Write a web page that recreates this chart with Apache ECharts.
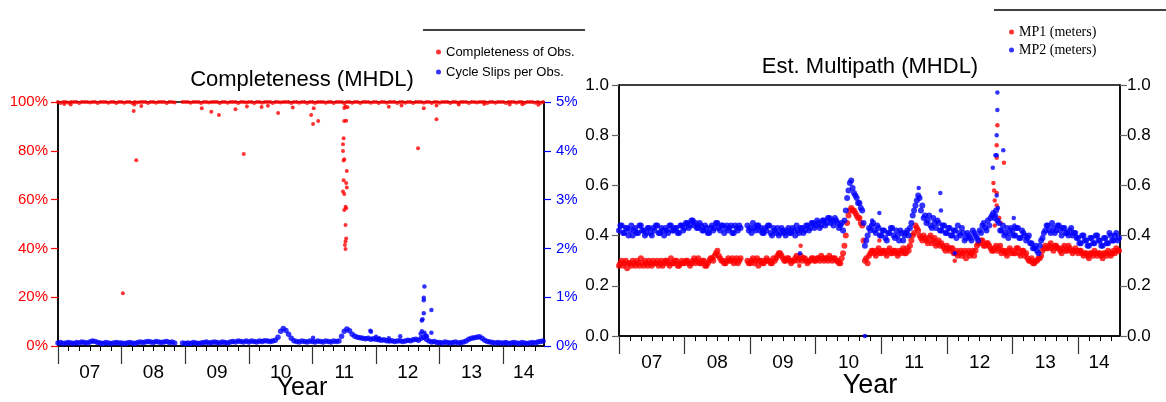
<!DOCTYPE html>
<html>
<head>
<meta charset="utf-8">
<script src="https://cdn.jsdelivr.net/npm/echarts@6.0.0/dist/echarts.min.js"></script>
<style>
  html, body { margin: 0; padding: 0; background: #fff; }
  #main { width: 1166px; height: 402px; }
</style>
</head>
<body>
<div id="main"></div>
<script>
// x axis: years, labels sit between the year ticks
var years = [2007, 2008, 2009, 2010, 2011, 2012, 2013, 2014];
var yearLabels = ['07', '08', '09', '10', '11', '12', '13', '14'];
var labelPos = [2007.5, 2008.5, 2009.5, 2010.5, 2011.5, 2012.5, 2013.5, 2014.32];
var xMin = 2007, xMax = 2014.64;

// half-month samples starting 2007.0 (24 per year, last year 16)
// completeness of obs. (%)
var complete = [
  100,99.6,100,100,99.7,100,100,100,99.6,100,100,100,99.8,100,100,99.6,100,100,100,99.7,100,100,99.6,100,
  100,99.7,100,100,99.6,100,99.8,100,100,100,99.6,100,100,99.7,100,100,100,99.6,100,100,99.8,null,null,100,
  100,100,99.7,100,100,100,99.6,100,100,99.8,100,100,100,99.6,100,100,99.7,100,100,100,99.6,100,100,99.8,
  100,100,99.6,100,100,99.7,100,100,100,99.6,100,100,99.8,100,100,100,99.6,100,100,99.7,100,100,99.6,100,
  100,99.6,100,100,100,99.7,100,100,99.6,100,100,100,99.5,100,100,99.7,100,100,99.6,100,100,100,99.7,100,
  100,99.6,100,100,99.7,100,100,100,99.6,100,100,99.7,100,100,99.6,100,100,100,99.7,100,100,99.6,100,100,
  99.7,100,100,100,99.6,100,100,99.7,100,100,100,99.6,100,100,99.8,100,100,100,99.6,100,100,99.7,100,100,
  100,99.6,100,100,100,99.7,100,100,99.6,100,100,100,99.7,100,99.6,100
];
// completeness drop-outs [year, %]
var completeLow = [
  [2008.02,21.6],[2008.19,96.3],[2008.23,76.1],[2008.31,98.4],[2008.20,99.0],[2009.26,97.4],
  [2009.41,96.0],[2009.53,94.7],[2009.79,97.0],[2009.92,78.7],[2009.97,98.2],[2010.20,98.0],
  [2010.30,98.5],[2010.46,95.5],[2010.69,97.7],[2010.98,94.7],[2011.02,97.4],[2011.01,91.0],
  [2011.09,92.2],[2011.50,92.2],[2011.53,92.3],[2011.50,97.5],[2011.52,98.2],[2011.55,97.8],
  [2011.49,85.1],[2011.48,82.7],[2011.48,79.9],[2011.50,76.5],[2011.49,76.0],[2011.54,71.7],
  [2011.49,67.9],[2011.53,66.8],[2011.54,65.0],[2011.48,63.3],[2011.50,62.3],[2011.52,57.1],
  [2011.50,55.7],[2011.53,56.5],[2011.52,49.6],[2011.53,44.1],[2011.52,42.8],[2011.51,41.4],
  [2011.52,39.8],[2012.20,98.1],[2012.40,98.6],[2012.66,81.0],[2012.75,97.4],[2012.95,92.9],
  [2012.95,98.6],[2013.30,99.0],[2013.70,99.2],[2014.10,99.0],[2014.30,99.1],[2014.55,98.9],
  [2007.10,99.2],[2007.20,99.0]
];
// cycle slips per obs. (%)
var slips = [
  0.06,0.07,0.05,0.06,0.07,0.06,0.05,0.07,0.06,0.08,0.07,0.06,0.08,0.10,0.09,0.07,0.06,0.05,0.07,0.06,0.05,0.06,0.07,0.06,
  0.06,0.05,0.06,0.07,0.06,0.05,0.07,0.08,0.07,0.08,0.09,0.08,0.07,0.09,0.08,0.07,0.08,0.09,0.07,0.08,0.06,null,null,0.06,
  0.05,0.06,0.05,0.07,0.06,0.05,0.06,0.07,0.08,0.06,0.07,0.08,0.07,0.06,0.08,0.07,0.06,0.08,0.09,0.08,0.10,0.09,0.08,0.10,
  0.08,0.10,0.09,0.08,0.10,0.09,0.11,0.10,0.09,0.10,0.12,0.18,0.30,0.36,0.32,0.24,0.16,0.11,0.09,0.08,0.10,0.09,0.08,0.10,
  0.09,0.08,0.10,0.09,0.08,0.10,0.09,0.08,0.10,0.09,0.10,0.20,0.30,0.35,0.31,0.24,0.20,0.18,0.17,0.16,0.15,0.16,0.14,0.15,
  0.14,0.13,0.12,0.13,0.11,0.10,0.11,0.09,0.10,0.11,0.09,0.10,0.12,0.11,0.13,0.14,0.12,0.16,0.18,0.14,0.10,0.08,0.09,0.07,
  0.07,0.06,0.08,0.07,0.06,0.07,0.08,0.06,0.07,0.08,0.10,0.14,0.16,0.17,0.18,0.19,0.16,0.12,0.09,0.08,0.07,0.06,0.07,0.06,
  0.06,0.07,0.05,0.06,0.07,0.06,0.05,0.07,0.06,0.05,0.06,0.07,0.06,0.08,0.09,0.10
];
var slipsHigh = [
  [2011.01,0.17],[2011.91,0.31],[2011.92,0.29],[2012.00,0.19],[2012.05,0.16],[2012.20,0.16],
  [2012.38,0.20],[2012.76,1.22],[2012.75,0.99],[2012.75,0.94],[2012.75,0.67],[2012.73,0.55],
  [2012.72,0.52],[2012.87,0.74],[2012.87,0.27],[2012.72,0.30],[2012.76,0.27],[2012.70,0.25],
  [2012.78,0.22],[2012.80,0.20]
];
// multipath MP1 / MP2 (meters), two interleaved sample sets
var mp1 = [
  0.28,0.30,0.29,0.27,0.29,0.30,0.28,0.29,0.31,0.28,0.29,0.30,0.28,0.29,0.30,0.29,0.28,0.30,0.29,0.31,0.29,0.30,0.28,0.30,
  0.29,0.30,0.28,0.30,0.29,0.31,0.29,0.30,0.28,0.30,0.31,0.32,0.34,0.31,0.30,0.29,0.31,0.30,0.29,0.31,0.30,null,null,0.30,
  0.29,0.31,0.30,0.28,0.30,0.29,0.31,0.30,0.29,0.30,0.32,0.33,0.31,0.30,0.31,0.29,0.30,0.32,0.31,0.30,0.31,0.29,0.30,0.31,
  0.30,0.31,0.32,0.30,0.31,0.32,0.30,0.31,0.30,0.29,0.33,0.40,0.48,0.51,0.50,0.48,0.47,0.44,0.30,0.29,0.33,0.34,0.32,0.35,
  0.33,0.34,0.32,0.35,0.33,0.34,0.32,0.33,0.35,0.33,0.34,0.38,0.41,0.43,0.40,0.38,0.39,0.37,0.40,0.38,0.36,0.38,0.37,0.35,
  0.36,0.34,0.35,0.33,0.32,0.34,0.33,0.31,0.34,0.33,0.32,0.36,0.37,0.38,0.36,0.37,0.35,0.34,0.36,0.35,0.33,0.34,0.32,0.35,
  0.34,0.33,0.35,0.32,0.34,0.33,0.30,0.31,0.29,0.30,0.31,0.34,0.36,0.35,0.37,0.34,0.36,0.35,0.33,0.36,0.34,0.35,0.33,0.35,
  0.33,0.34,0.32,0.33,0.31,0.33,0.34,0.32,0.33,0.31,0.33,0.34,0.32,0.34,0.35,0.34
];
var mp1b = [
  0.29,0.28,0.30,0.29,0.28,0.29,0.30,0.28,0.29,0.30,0.28,0.29,0.30,0.29,0.28,0.30,0.29,0.30,0.28,0.29,0.30,0.28,0.29,0.29,
  0.30,0.29,0.29,0.31,0.30,0.29,0.30,0.28,0.29,0.31,0.30,0.33,0.32,0.30,0.29,0.30,0.30,0.31,0.30,0.29,0.31,null,null,0.29,
  0.30,0.29,0.31,0.30,0.29,0.30,0.30,0.29,0.31,0.31,0.33,0.32,0.30,0.31,0.30,0.30,0.31,0.30,0.32,0.31,0.30,0.30,0.31,0.30,
  0.31,0.30,0.31,0.31,0.30,0.31,0.31,0.30,0.29,0.31,0.36,0.45,0.50,0.50,0.49,0.47,0.45,0.38,0.31,0.32,0.34,0.33,0.34,0.33,
  0.34,0.33,0.34,0.33,0.34,0.33,0.34,0.34,0.33,0.35,0.36,0.40,0.44,0.42,0.39,0.40,0.38,0.39,0.37,0.39,0.37,0.36,0.36,0.34,
  0.35,0.35,0.33,0.34,0.33,0.32,0.34,0.33,0.32,0.34,0.34,0.37,0.38,0.36,0.37,0.36,0.34,0.35,0.34,0.36,0.34,0.33,0.34,0.33,
  0.33,0.35,0.33,0.34,0.32,0.31,0.30,0.29,0.30,0.31,0.32,0.35,0.35,0.36,0.35,0.36,0.35,0.34,0.35,0.34,0.36,0.34,0.34,0.34,
  0.34,0.33,0.33,0.32,0.33,0.32,0.33,0.33,0.32,0.33,0.32,0.33,0.33,0.33,0.34,0.35
];
var mp1High = [
  [2009.77,0.36],[2009.75,0.28],[2010.97,0.38],[2012.12,0.30],[2012.71,0.61],[2012.72,0.58],
  [2012.76,0.57],[2012.73,0.54],[2012.76,0.52],[2012.77,0.84],[2012.76,0.76],[2012.76,0.71],
  [2012.87,0.69],[2012.80,0.47],[2012.82,0.45],[2012.73,0.44]
];
var mp2 = [
  0.42,0.44,0.41,0.43,0.42,0.40,0.43,0.41,0.44,0.42,0.41,0.43,0.40,0.42,0.44,0.41,0.42,0.43,0.41,0.44,0.42,0.43,0.41,0.44,
  0.43,0.45,0.44,0.46,0.45,0.43,0.44,0.42,0.43,0.41,0.44,0.43,0.45,0.42,0.44,0.43,0.42,0.44,0.41,0.43,0.44,null,null,0.44,
  0.43,0.45,0.42,0.44,0.43,0.41,0.42,0.44,0.40,0.42,0.43,0.41,0.42,0.40,0.43,0.41,0.42,0.44,0.41,0.43,0.42,0.44,0.43,0.45,
  0.44,0.45,0.44,0.46,0.45,0.47,0.46,0.47,0.45,0.44,0.42,0.50,0.58,0.62,0.57,0.55,0.53,0.50,0.36,0.40,0.42,0.45,0.41,0.43,
  0.40,0.42,0.38,0.41,0.43,0.39,0.40,0.42,0.38,0.41,0.40,0.45,0.50,0.54,0.55,0.52,0.48,0.46,0.44,0.47,0.43,0.45,0.42,0.44,
  0.41,0.43,0.40,0.42,0.44,0.40,0.41,0.39,0.40,0.38,0.41,0.39,0.42,0.44,0.43,0.46,0.47,0.49,0.50,0.45,0.42,0.40,0.43,0.41,
  0.42,0.40,0.43,0.39,0.41,0.38,0.40,0.37,0.35,0.34,0.36,0.39,0.42,0.44,0.41,0.43,0.42,0.44,0.40,0.43,0.41,0.42,0.40,0.41,
  0.39,0.37,0.40,0.38,0.36,0.39,0.37,0.40,0.38,0.36,0.39,0.37,0.40,0.38,0.41,0.39
];
var mp2b = [
  0.44,0.41,0.43,0.40,0.44,0.42,0.41,0.44,0.42,0.40,0.43,0.41,0.43,0.44,0.41,0.43,0.40,0.42,0.44,0.42,0.43,0.41,0.44,0.42,
  0.45,0.43,0.46,0.44,0.43,0.45,0.42,0.44,0.41,0.43,0.42,0.45,0.43,0.44,0.41,0.44,0.43,0.41,0.44,0.42,0.43,null,null,0.42,
  0.41,0.43,0.44,0.42,0.41,0.43,0.44,0.41,0.43,0.41,0.40,0.43,0.41,0.42,0.41,0.43,0.40,0.42,0.43,0.41,0.44,0.42,0.45,0.43,
  0.46,0.43,0.46,0.44,0.47,0.45,0.44,0.46,0.43,0.45,0.46,0.55,0.61,0.59,0.56,0.53,0.51,0.45,0.38,0.43,0.44,0.42,0.44,0.40,
  0.42,0.39,0.41,0.43,0.40,0.42,0.38,0.41,0.40,0.42,0.43,0.48,0.52,0.56,0.50,0.47,0.45,0.48,0.43,0.45,0.46,0.42,0.44,0.41,
  0.43,0.40,0.42,0.39,0.41,0.43,0.38,0.41,0.39,0.42,0.40,0.38,0.41,0.45,0.42,0.44,0.48,0.47,0.46,0.42,0.44,0.41,0.39,0.43,
  0.40,0.43,0.39,0.42,0.40,0.39,0.37,0.35,0.36,0.33,0.38,0.41,0.44,0.42,0.45,0.41,0.44,0.42,0.43,0.41,0.40,0.43,0.41,0.39,
  0.37,0.40,0.38,0.36,0.39,0.37,0.40,0.38,0.36,0.39,0.37,0.41,0.38,0.40,0.38,0.41
];
var mp2High = [
  [2010.75,0.0],[2010.97,0.49],[2010.86,0.46],[2011.57,0.59],[2011.90,0.57],[2011.91,0.50],
  [2009.76,0.33],[2012.12,0.33],[2012.70,0.67],[2012.74,0.72],[2012.76,0.72],[2012.76,0.80],
  [2012.77,0.90],[2012.77,0.97],[2012.86,0.74],[2012.76,0.56],[2012.75,0.48],[2012.78,0.51],
  [2013.02,0.47],[2013.03,0.44]
];

// samples -> [year, value]; offset shifts the second sample set by a quarter month
function toPoints(vals, offset) {
  var pts = [];
  vals.forEach(function (v, i) {
    if (v !== null) pts.push([xMin + i / 24 + offset, v]);
  });
  return pts;
}

// dense band drawn with bigger dots, single outliers with small ones
function dotSize(bandCount, big, small) {
  return function (val, params) {
    return params.dataIndex < bandCount ? big : small;
  };
}

var minorTicks = [];
years.forEach(function (y) {
  for (var k = 1; k < 6; k++) {
    if (y + k / 6 < xMax) minorTicks.push(y + k / 6);
  }
});

var FONT = 'Liberation Sans, Arial, Helvetica, sans-serif';

function yearAxis(grid, labelSize) {
  return [{
    type: 'value', gridIndex: grid, position: 'bottom', min: xMin, max: xMax,
    axisLine: { show: true, lineStyle: { color: '#000', width: 1.5 } },
    axisTick: { show: true, customValues: years, length: 18, lineStyle: { color: '#333', width: 1.2 } },
    axisLabel: {
      customValues: labelPos, margin: 17, color: '#000', fontSize: labelSize, fontFamily: FONT,
      formatter: function (v) { return yearLabels[labelPos.indexOf(v)]; }
    },
    splitLine: { show: false }
  }, {
    type: 'value', gridIndex: grid, position: 'bottom', min: xMin, max: xMax,
    axisLine: { show: false },
    axisTick: { show: true, customValues: minorTicks, length: 5, lineStyle: { color: '#000' } },
    axisLabel: { show: false },
    splitLine: { show: false }
  }];
}

function valAxis(grid, pos, max, interval, color, tickColor, size, margin, fmt) {
  return {
    type: 'value', gridIndex: grid, position: pos, min: 0, max: max, interval: interval,
    axisLine: { show: true, lineStyle: { color: '#000', width: 1.5 } },
    axisTick: { show: true, length: 7, lineStyle: { color: tickColor, width: 1.2 } },
    axisLabel: { color: color, fontSize: size, fontFamily: FONT, margin: margin, formatter: fmt },
    splitLine: { show: false }
  };
}

var slipPts = toPoints(slips, 0);
var mp1Pts = toPoints(mp1, 0).concat(toPoints(mp1b, 1 / 48));
var mp2Pts = toPoints(mp2, 0).concat(toPoints(mp2b, 1 / 48));

var chart = echarts.init(document.getElementById('main'));
chart.setOption({
  animation: false,
  backgroundColor: '#fff',
  grid: [
    { left: 58, right: 622, top: 102, bottom: 56, show: true, borderColor: '#000', borderWidth: 1.5, outerBoundsMode: 'none' },
    { left: 619, right: 46, top: 85, bottom: 66, show: true, borderColor: '#000', borderWidth: 1.5, outerBoundsMode: 'none' }
  ],
  legend: [{
    data: ['Completeness of Obs.', 'Cycle Slips per Obs.'],
    orient: 'vertical', left: 436, top: 45, padding: 0, itemGap: 6,
    itemWidth: 5, itemHeight: 5, icon: 'circle',
    textStyle: { fontSize: 13, lineHeight: 14, fontFamily: FONT, color: '#000' }
  }, {
    data: ['MP1 (meters)', 'MP2 (meters)'],
    orient: 'vertical', left: 1009, top: 25, padding: 0, itemGap: 4,
    itemWidth: 5, itemHeight: 5, icon: 'circle',
    textStyle: { fontSize: 14, lineHeight: 14, fontFamily: 'Liberation Serif, Times New Roman, serif', color: '#000' }
  }],
  xAxis: yearAxis(0, 19).concat(yearAxis(1, 19)),
  yAxis: [
    valAxis(0, 'left', 100, 20, '#ff0000', '#ff0000', 15, 10, '{value}%'),
    valAxis(0, 'right', 5, 1, '#0000ff', '#0000ff', 15, 12, '{value}%'),
    valAxis(1, 'left', 1, 0.2, '#000', '#666', 17, 10, function (v) { return v.toFixed(1); }),
    valAxis(1, 'right', 1, 0.2, '#000', '#666', 17, 7, function (v) { return v.toFixed(1); })
  ],
  graphic: [
    { type: 'line', shape: { x1: 423, y1: 30, x2: 585, y2: 30 }, style: { stroke: '#000', lineWidth: 1.5 } },
    { type: 'line', shape: { x1: 994, y1: 10, x2: 1166, y2: 10 }, style: { stroke: '#000', lineWidth: 1.5 } },
    { type: 'text', x: 302, y: 80, style: { text: 'Completeness (MHDL)', fontSize: 22, fontFamily: FONT, fill: '#000', align: 'center', verticalAlign: 'middle' } },
    { type: 'text', x: 870, y: 67, style: { text: 'Est. Multipath (MHDL)', fontSize: 22, fontFamily: FONT, fill: '#000', align: 'center', verticalAlign: 'middle' } },
    { type: 'text', x: 302, y: 388, z: 10, style: { text: 'Year', fontSize: 25, fontFamily: FONT, fill: '#000', align: 'center', verticalAlign: 'middle' } },
    { type: 'text', x: 870, y: 386, z: 10, style: { text: 'Year', fontSize: 27, fontFamily: FONT, fill: '#000', align: 'center', verticalAlign: 'middle' } }
  ],
  series: [
    { name: 'Completeness of Obs.', type: 'scatter', xAxisIndex: 0, yAxisIndex: 0, symbolSize: 4,
      itemStyle: { color: '#ff0000' }, data: toPoints(complete, 0).concat(completeLow) },
    { name: 'Cycle Slips per Obs.', type: 'scatter', xAxisIndex: 0, yAxisIndex: 1,
      symbolSize: dotSize(slipPts.length, 5.5, 4.5),
      itemStyle: { color: '#0000ff' }, data: slipPts.concat(slipsHigh) },
    { name: 'MP1 (meters)', type: 'scatter', xAxisIndex: 2, yAxisIndex: 2,
      symbolSize: dotSize(mp1Pts.length, 6, 4.5),
      itemStyle: { color: '#ff0000' }, data: mp1Pts.concat(mp1High) },
    { name: 'MP2 (meters)', type: 'scatter', xAxisIndex: 2, yAxisIndex: 3,
      symbolSize: dotSize(mp2Pts.length, 6, 4.5),
      itemStyle: { color: '#0000ff' }, data: mp2Pts.concat(mp2High) }
  ]
});
</script>
</body>
</html>
